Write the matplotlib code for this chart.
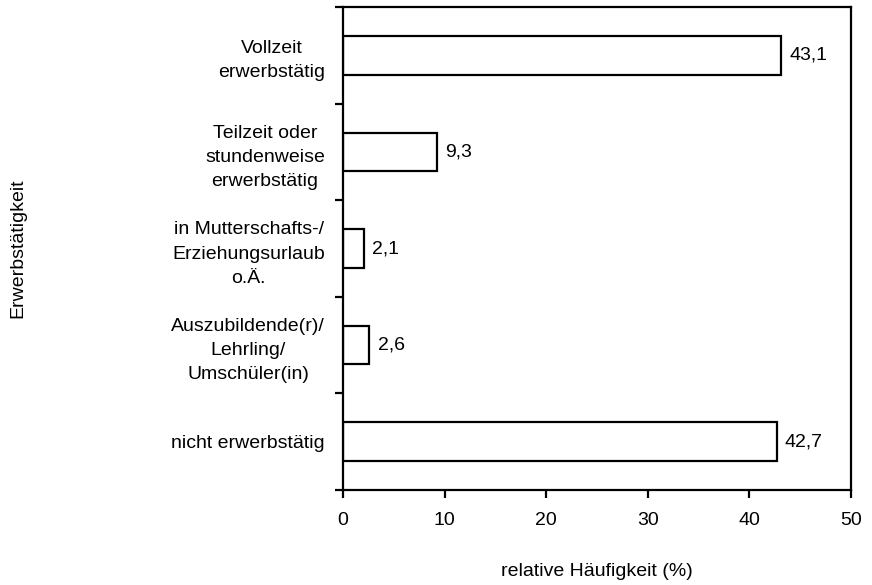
import numpy as np
import matplotlib.pyplot as plt

plt.rcParams['font.family'] = ['Liberation Sans', 'DejaVu Sans']

categories = ["Vollzeit\nerwerbstätig",
              "Teilzeit oder\nstundenweise\nerwerbstätig",
              "in Mutterschafts-/\nErziehungsurlaub\no.Ä.",
              "Auszubildende(r)/\nLehrling/\nUmschüler(in)",
              "nicht erwerbstätig"]
values = [43.1, 9.3, 2.1, 2.6, 42.7]
xticks = [0, 10, 20, 30, 40, 50]

fig = plt.figure(figsize=(8.72, 5.85), dpi=100)
ax = fig.add_axes([0.3933, 0.1624, 0.9759 - 0.3933, 0.988 - 0.1624])

y = np.arange(len(categories))
ax.barh(y, values, height=0.4, color="white", edgecolor="black", linewidth=1.6)

for yi, v in zip(y, values):
    ax.text(v + 0.8, yi, f"{v:.1f}".replace(".", ","), va="center", ha="left", fontsize=14)

ax.set_ylim(len(categories) - 0.5, -0.5)
ax.set_xlim(0, 50)
ax.set_yticks(y)
ax.set_yticklabels(categories, fontsize=14, multialignment="center", linespacing=1.55)
ax.tick_params(axis="y", which="major", length=0, pad=13)
ax.set_yticks(np.arange(-0.5, len(categories)), minor=True)
ax.tick_params(axis="y", which="minor", length=6, width=1.6, direction="out")

ax.set_xticks(xticks)
ax.set_xticklabels([str(t) for t in xticks], fontsize=14)
ax.tick_params(axis="x", length=6, width=1.6, direction="out", pad=10)

for s in ax.spines.values():
    s.set_linewidth(1.6)

ax.set_xlabel("relative Häufigkeit (%)", fontsize=14, labelpad=24)
fig.text(0.021, 0.575, "Erwerbstätigkeit", rotation=90, va="center", ha="center", fontsize=14)

plt.savefig("out.png", dpi=100)
